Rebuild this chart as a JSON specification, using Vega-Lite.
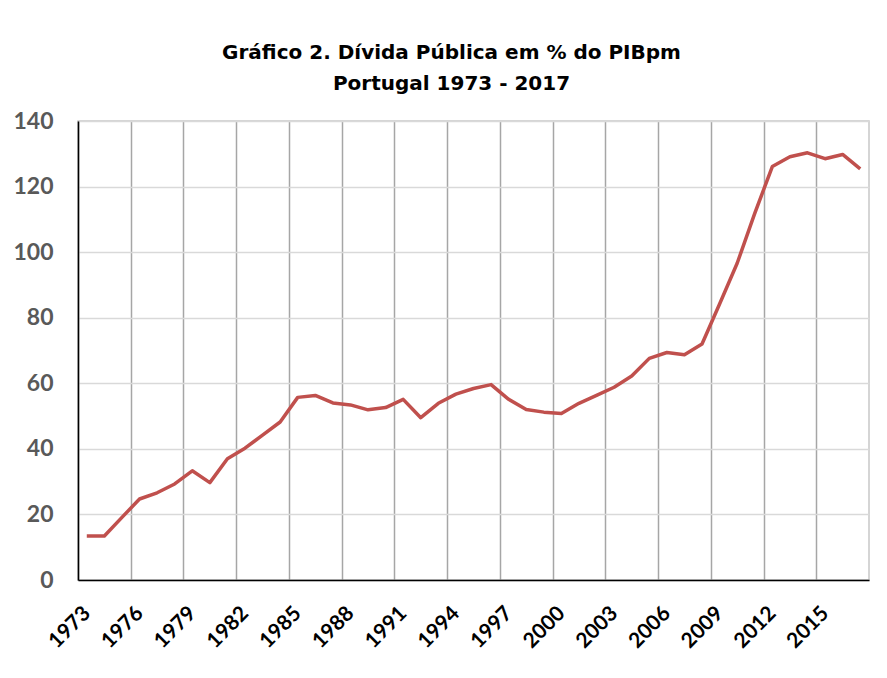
{
  "$schema": "https://vega.github.io/schema/vega-lite/v6.json",
  "width": 791,
  "height": 459,
  "autosize": "none",
  "padding": {"left": 78, "top": 121, "right": 18, "bottom": 98},
  "background": "white",
  "view": {"stroke": "#c8c8c8", "strokeWidth": 1.5},
  "title": {
    "text": ["Gráfico 2. Dívida Pública em % do PIBpm", "Portugal 1973 - 2017"],
    "font": "DejaVu Sans",
    "fontSize": 20,
    "fontWeight": "bold",
    "color": "#000000",
    "anchor": "middle",
    "dx": -22,
    "lineHeight": 31,
    "offset": 16
  },
  "data": {
    "values": [
      {"year": 1973, "value": 13.4},
      {"year": 1974, "value": 13.4},
      {"year": 1975, "value": 19.1},
      {"year": 1976, "value": 24.7},
      {"year": 1977, "value": 26.6},
      {"year": 1978, "value": 29.3},
      {"year": 1979, "value": 33.3},
      {"year": 1980, "value": 29.7},
      {"year": 1981, "value": 37.0},
      {"year": 1982, "value": 40.2},
      {"year": 1983, "value": 44.2},
      {"year": 1984, "value": 48.2},
      {"year": 1985, "value": 55.7},
      {"year": 1986, "value": 56.3},
      {"year": 1987, "value": 54.0},
      {"year": 1988, "value": 53.4},
      {"year": 1989, "value": 51.9},
      {"year": 1990, "value": 52.6},
      {"year": 1991, "value": 55.1},
      {"year": 1992, "value": 49.5},
      {"year": 1993, "value": 53.9},
      {"year": 1994, "value": 56.7},
      {"year": 1995, "value": 58.4},
      {"year": 1996, "value": 59.6},
      {"year": 1997, "value": 55.1},
      {"year": 1998, "value": 52.0},
      {"year": 1999, "value": 51.2},
      {"year": 2000, "value": 50.8},
      {"year": 2001, "value": 53.9},
      {"year": 2002, "value": 56.3},
      {"year": 2003, "value": 58.8},
      {"year": 2004, "value": 62.2},
      {"year": 2005, "value": 67.6},
      {"year": 2006, "value": 69.4},
      {"year": 2007, "value": 68.7},
      {"year": 2008, "value": 72.0},
      {"year": 2009, "value": 84.2},
      {"year": 2010, "value": 96.6},
      {"year": 2011, "value": 111.8},
      {"year": 2012, "value": 126.1},
      {"year": 2013, "value": 129.1},
      {"year": 2014, "value": 130.3},
      {"year": 2015, "value": 128.5},
      {"year": 2016, "value": 129.8},
      {"year": 2017, "value": 125.4}
    ]
  },
  "mark": {"type": "line", "color": "#c0504d", "strokeWidth": 3.5, "strokeJoin": "round", "strokeCap": "butt"},
  "encoding": {
    "x": {
      "field": "year",
      "type": "quantitative",
      "scale": {"domain": [1972.5, 2017.5], "nice": false, "zero": false},
      "axis": {
        "title": null,
        "values": [1972.5, 1975.5, 1978.5, 1981.5, 1984.5, 1987.5, 1990.5, 1993.5, 1996.5, 1999.5, 2002.5, 2005.5, 2008.5, 2011.5, 2014.5],
        "labelExpr": "format(datum.value + 0.5, 'd')",
        "labelOffset": 8.79,
        "grid": true,
        "gridColor": "#a6a6a6",
        "gridWidth": 1.5,
        "ticks": false,
        "domain": true,
        "domainColor": "#000000",
        "domainWidth": 1.5,
        "labelFont": "Lato",
        "labelFontSize": 21,
        "labelFontWeight": "bold",
        "labelColor": "#000000",
        "labelAngle": -45,
        "labelAlign": "right",
        "labelBaseline": "middle",
        "labelPadding": 30,
        "labelOverlap": false,
        "labelFlush": false,
        "labelBound": false
      }
    },
    "y": {
      "field": "value",
      "type": "quantitative",
      "scale": {"domain": [0, 140], "nice": false},
      "axis": {
        "title": null,
        "values": [0, 20, 40, 60, 80, 100, 120, 140],
        "grid": true,
        "gridColor": "#d9d9d9",
        "gridWidth": 1.5,
        "ticks": false,
        "domain": true,
        "domainColor": "#000000",
        "domainWidth": 1.5,
        "labelFont": "Lato",
        "labelFontSize": 23,
        "labelFontWeight": "bold",
        "labelColor": "#595959",
        "labelPadding": 25
      }
    }
  }
}
